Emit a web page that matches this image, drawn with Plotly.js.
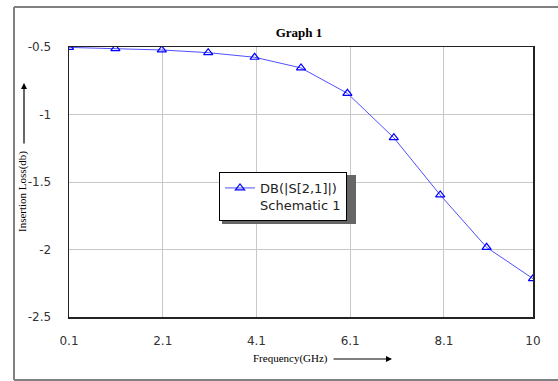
<!DOCTYPE html>
<html>
<head>
<meta charset="utf-8">
<script src="https://cdn.plot.ly/plotly-3.0.1.min.js"></script>
<style>html,body{margin:0;padding:0;background:#fff;overflow:hidden;}#chart{width:558px;height:381px;}</style>
</head>
<body>
<div id="chart"></div>
<script>
const freqGHz = [0.1, 1.09, 2.08, 3.07, 4.06, 5.05, 6.04, 7.03, 8.02, 9.01, 10];
const s21dB = [-0.503, -0.512, -0.522, -0.542, -0.576, -0.655, -0.843, -1.172, -1.596, -1.984, -2.216];
const xTickVals = [0.1, 2.1, 4.1, 6.1, 8.1, 10];
const xTickText = ['0.1', '2.1', '4.1', '6.1', '8.1', '10'];
const yTickVals = [-2.5, -2, -1.5, -1, -0.5];
const yTickText = ['-2.5', '-2', '-1.5', '-1', '-0.5'];
const seriesName = 'DB(|S[2,1]|)<br>Schematic 1';

// layout geometry helpers (pixels -> paper)
const L = 69, R = 25, T = 47, B = 64, W = 558, H = 381;
const pw = W - L - R, ph = H - T - B;
const px = v => (v - L) / pw;
const py = v => (H - B - v) / ph;

const trace = {
  x: freqGHz, y: s21dB, type: 'scatter', mode: 'lines+markers',
  name: seriesName,
  line: {color: 'rgb(80,80,255)', width: 1},
  marker: {symbol: 'triangle-up-open', size: 8, color: '#0000ff', line: {width: 1.2, color: '#0000ff'}}
};

const layout = {
  width: W, height: H,
  margin: {l: L, r: R, t: T, b: B, pad: 0},
  paper_bgcolor: '#fff', plot_bgcolor: '#fff',
  showlegend: true,
  hovermode: false,
  title: {text: '<b>Graph 1</b>', font: {family: 'Liberation Serif, Times New Roman, serif', size: 13, color: '#000'},
          x: px(299), xref: 'paper', xanchor: 'center', y: 1 - 32 / H, yref: 'container', yanchor: 'middle'},
  xaxis: {range: [0.1, 10], tickvals: xTickVals, ticktext: xTickText,
          showgrid: true, gridcolor: '#c8c8c8', gridwidth: 1, zeroline: false,
          showline: true, linecolor: '#222', linewidth: 1.5, mirror: true,
          ticks: 'outside', ticklen: 12, tickcolor: 'rgba(0,0,0,0)',
          tickfont: {family: 'DejaVu Sans, Verdana, sans-serif', size: 12, color: '#333'}},
  yaxis: {range: [-2.5, -0.5], tickvals: yTickVals, ticktext: yTickText,
          showgrid: true, gridcolor: '#c8c8c8', gridwidth: 1, zeroline: false,
          showline: true, linecolor: '#222', linewidth: 1.5, mirror: true,
          ticks: 'outside', ticklen: 14, tickcolor: 'rgba(0,0,0,0)',
          tickfont: {family: 'DejaVu Sans, Verdana, sans-serif', size: 12, color: '#333'}},
  legend: {x: px(219), y: py(172), xanchor: 'left', yanchor: 'top',
           bgcolor: '#fff', bordercolor: '#000', borderwidth: 1, valign: 'top',
           font: {family: 'DejaVu Sans, Verdana, sans-serif', size: 13, color: '#222'}},
  shapes: [
    {type: 'line', xref: 'paper', yref: 'paper', x0: px(14), x1: px(558), y0: py(7), y1: py(7),
     line: {color: '#808080', width: 2}, layer: 'below'},
    {type: 'line', xref: 'paper', yref: 'paper', x0: px(14), x1: px(558), y0: py(380), y1: py(380),
     line: {color: '#808080', width: 2}, layer: 'below'},
    {type: 'line', xref: 'paper', yref: 'paper', x0: px(14), x1: px(14), y0: py(380), y1: py(7),
     line: {color: '#808080', width: 2}, layer: 'below'},
    {type: 'rect', xref: 'paper', yref: 'paper', x0: px(222), x1: px(356), y0: py(224), y1: py(175),
     line: {width: 0}, fillcolor: '#666', layer: 'above'}
  ],
  annotations: [
    {text: 'Insertion Loss(db)', xref: 'paper', yref: 'paper', x: px(23), y: py(192),
     textangle: -90, showarrow: false, xanchor: 'center', yanchor: 'middle',
     font: {family: 'Liberation Serif, Times New Roman, serif', size: 11, color: '#000'}},
    {text: 'Frequency(GHz)', xref: 'paper', yref: 'paper', x: px(290), y: py(359),
     showarrow: false, xanchor: 'center', yanchor: 'middle',
     font: {family: 'Liberation Serif, Times New Roman, serif', size: 11, color: '#000'}},
    {text: '', xref: 'paper', yref: 'paper', x: px(24), y: py(83), ax: 0, ay: 62,
     showarrow: true, arrowhead: 2, arrowsize: 1, arrowwidth: 1.2, arrowcolor: '#000', standoff: 0},
    {text: '', xref: 'paper', yref: 'paper', x: px(392), y: py(359), ax: -60, ay: 0,
     showarrow: true, arrowhead: 2, arrowsize: 1, arrowwidth: 1.2, arrowcolor: '#000', standoff: 0}
  ]
};

Plotly.newPlot('chart', [trace], layout, {displayModeBar: false, staticPlot: true});
</script>
</body>
</html>
